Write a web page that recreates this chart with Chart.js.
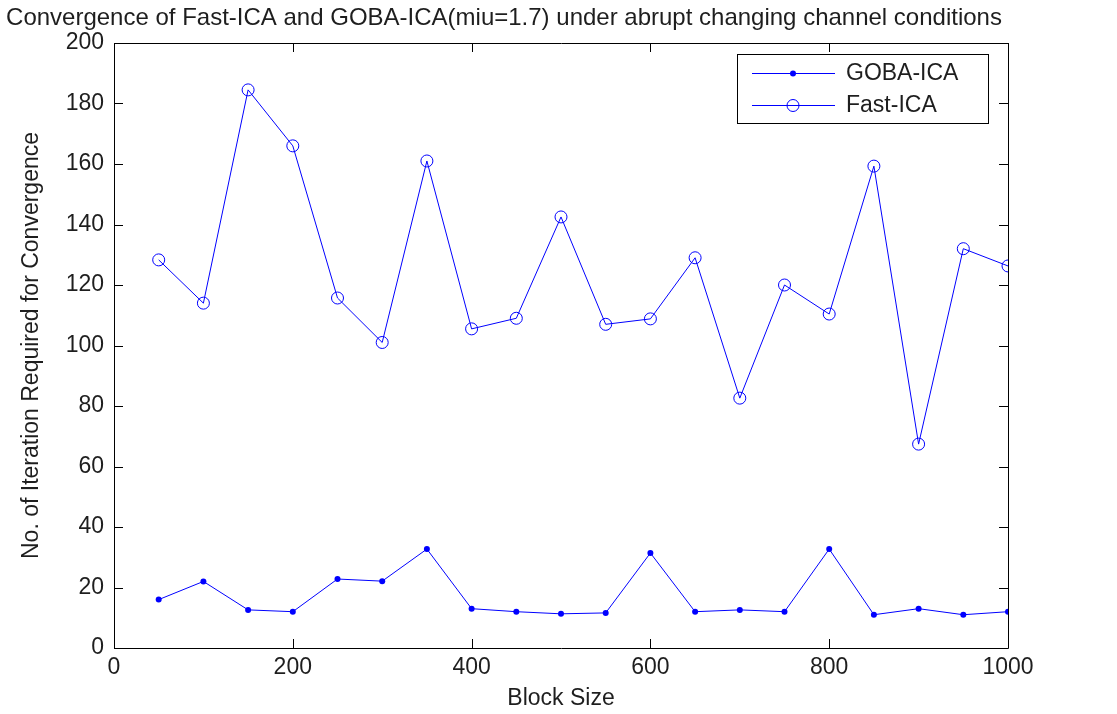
<!DOCTYPE html>
<html lang="en">
<head>
<meta charset="UTF-8">
<title>Convergence of Fast-ICA and GOBA-ICA</title>
<script src="https://cdn.jsdelivr.net/npm/chart.js@4.4.1/dist/chart.umd.min.js"></script>
<style>
    body { margin: 0; background: #fff; }
    #wrap { width: 1117px; height: 714px; position: relative; }
</style>
</head>
<body>
<div id="wrap"><canvas id="chartCanvas"></canvas></div>
<script>
    // block sizes on the x axis
    let blockSizes = [50, 100, 150, 200, 250, 300, 350, 400, 450, 500, 550, 600, 650, 700, 750, 800, 850, 900, 950, 1000];
    // iterations needed for convergence
    let gobaIca = [16, 22, 12.6, 12, 22.8, 22.1, 32.7, 13, 12, 11.3, 11.6, 31.4, 12, 12.6, 12, 32.7, 11, 13, 11, 12];
    let fastIca = [128.3, 114, 184.5, 166, 115.7, 101, 161, 105.5, 109, 142.5, 107, 108.8, 129, 82.6, 120, 110.4, 159.3, 67.4, 132, 126.3];
    let xTicks = [0, 200, 400, 600, 800, 1000];
    let yTicks = [0, 20, 40, 60, 80, 100, 120, 140, 160, 180, 200];

    let fontName = "'Liberation Sans', Arial, sans-serif";
    let blue = '#0000ff';
    let textCol = '#1e1e1e';

    function toPoints(vals) {
        return vals.map((v, i) => ({ x: blockSizes[i], y: v }));
    }

    // matlab style box with inward ticks on all four sides + legend inside the plot
    let matlabBox = {
        id: 'matlabBox',
        afterDraw(chart) {
            let ctx = chart.ctx;
            let a = chart.chartArea;
            let xs = chart.scales.x, ys = chart.scales.y;
            let tl = 9;
            ctx.save();
            ctx.strokeStyle = '#000';
            ctx.lineWidth = 1;
            ctx.beginPath();
            ctx.rect(a.left + 0.5, a.top + 0.5, a.right - a.left, a.bottom - a.top);
            xTicks.forEach(t => {
                let px = Math.round(xs.getPixelForValue(t)) + 0.5;
                ctx.moveTo(px, a.bottom); ctx.lineTo(px, a.bottom - tl);
                ctx.moveTo(px, a.top); ctx.lineTo(px, a.top + tl);
            });
            yTicks.forEach(t => {
                let py = Math.round(ys.getPixelForValue(t)) + 0.5;
                ctx.moveTo(a.left, py); ctx.lineTo(a.left + tl, py);
                ctx.moveTo(a.right, py); ctx.lineTo(a.right - tl, py);
            });
            ctx.stroke();

            // legend
            let lx = 737, ly = 54, lw = 251, lh = 69;
            ctx.fillStyle = '#fff';
            ctx.fillRect(lx, ly, lw, lh);
            ctx.strokeRect(lx + 0.5, ly + 0.5, lw, lh);
            let rows = [
                { label: 'GOBA-ICA', y: ly + 19, dot: true },
                { label: 'Fast-ICA', y: ly + 51, dot: false }
            ];
            ctx.font = '23px ' + fontName;
            ctx.textBaseline = 'middle';
            rows.forEach(r => {
                ctx.strokeStyle = blue;
                ctx.beginPath();
                ctx.moveTo(752, r.y + 0.5); ctx.lineTo(835, r.y + 0.5);
                ctx.stroke();
                ctx.beginPath();
                if (r.dot) {
                    ctx.fillStyle = blue;
                    ctx.arc(793, r.y + 0.5, 3, 0, Math.PI * 2);
                    ctx.fill();
                } else {
                    ctx.arc(793, r.y + 0.5, 6, 0, Math.PI * 2);
                    ctx.stroke();
                }
                ctx.fillStyle = textCol;
                ctx.fillText(r.label, 846, r.y + 1);
            });
            ctx.restore();
        }
    };

    let mychart = document.getElementById('chartCanvas').getContext('2d');
    let chart = new Chart(mychart, {
        type: 'line',
        data: {
            datasets: [
                {
                    label: 'GOBA-ICA',
                    data: toPoints(gobaIca),
                    borderColor: blue,
                    backgroundColor: blue,
                    borderWidth: 1,
                    pointRadius: 3,
                    pointBorderWidth: 0,
                    pointBackgroundColor: blue
                },
                {
                    label: 'Fast-ICA',
                    data: toPoints(fastIca),
                    borderColor: blue,
                    borderWidth: 1,
                    pointRadius: 6,
                    pointBorderWidth: 1,
                    pointBorderColor: blue,
                    pointBackgroundColor: 'rgba(0,0,0,0)'
                }
            ]
        },
        options: {
            responsive: true,
            maintainAspectRatio: false,
            animation: false,
            layout: { padding: { left: 0, right: 109, top: 0, bottom: 0 } },
            plugins: {
                legend: { display: false },
                tooltip: { enabled: false },
                title: {
                    display: true,
                    text: 'Convergence of Fast-ICA and GOBA-ICA(miu=1.7) under abrupt changing channel conditions',
                    color: textCol,
                    font: { family: fontName, size: 24, weight: 'normal' },
                    padding: { top: 4, bottom: 10.2 }
                }
            },
            scales: {
                x: {
                    type: 'linear',
                    min: 0,
                    max: 1000,
                    afterFit: (s) => { s.height = 66; },
                    afterBuildTicks: (s) => { s.ticks = xTicks.map(v => ({ value: v })); },
                    grid: { display: false, drawTicks: false },
                    border: { display: false },
                    ticks: {
                        color: textCol, padding: 6, maxRotation: 0,
                        font: { family: fontName, size: 23 },
                        callback: (v) => String(v)
                    },
                    title: {
                        display: true,
                        text: 'Block Size',
                        color: textCol,
                        font: { family: fontName, size: 23 },
                        padding: { top: 0, bottom: 2 }
                    }
                },
                y: {
                    type: 'linear',
                    min: 0,
                    max: 200,
                    afterFit: (s) => { s.width = 114; },
                    afterBuildTicks: (s) => { s.ticks = yTicks.map(v => ({ value: v })); },
                    grid: { display: false, drawTicks: false },
                    border: { display: false },
                    ticks: {
                        color: textCol, padding: 10,
                        font: { family: fontName, size: 23 },
                        callback: (v) => String(v)
                    },
                    title: {
                        display: true,
                        text: 'No. of Iteration Required for Convergence',
                        color: textCol,
                        font: { family: fontName, size: 23 },
                        padding: { top: 18, bottom: 0 }
                    }
                }
            }
        },
        plugins: [matlabBox]
    });
</script>
</body>
</html>
